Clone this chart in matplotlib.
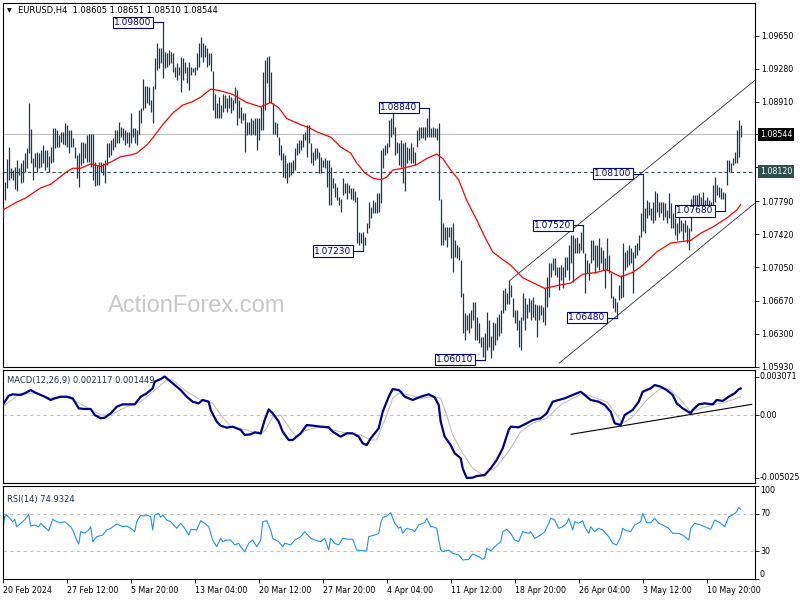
import numpy as np
import matplotlib.pyplot as plt

# -------------------------------------------------------------------
# 0. Data (prices in pips = price * 10000)
# -------------------------------------------------------------------
high_pips = [
    10773, 10801, 10826, 10840, 10816, 10814, 10818, 10825, 10816, 10822,
    10825, 10833, 10839, 10889, 10860, 10827, 10833, 10834, 10833, 10836,
    10842, 10836, 10836, 10830, 10840, 10861, 10861, 10859, 10853, 10857,
    10857, 10867, 10865, 10859, 10859, 10850, 10840, 10831, 10833, 10845,
    10845, 10844, 10853, 10855, 10855, 10855, 10823, 10820, 10823, 10823,
    10822, 10825, 10844, 10844, 10848, 10850, 10859, 10859, 10868, 10862,
    10861, 10859, 10857, 10857, 10878, 10861, 10861, 10859, 10881, 10884,
    10916, 10908, 10908, 10907, 10893, 10908, 10940, 10957, 10951, 10951,
    10980, 10947, 10945, 10949, 10947, 10945, 10930, 10934, 10930, 10941,
    10940, 10935, 10930, 10935, 10930, 10929, 10930, 10945, 10957, 10963,
    10957, 10954, 10951, 10945, 10945, 10925, 10900, 10889, 10896, 10887,
    10900, 10898, 10895, 10898, 10896, 10893, 10907, 10904, 10893, 10885,
    10878, 10878, 10868, 10868, 10872, 10870, 10872, 10872, 10872, 10885,
    10924, 10938, 10941, 10942, 10924, 10889, 10868, 10867, 10851, 10842,
    10833, 10831, 10822, 10823, 10823, 10825, 10839, 10844, 10848, 10848,
    10855, 10857, 10865, 10865, 10844, 10834, 10839, 10839, 10834, 10829,
    10825, 10827, 10825, 10825, 10817, 10805, 10800, 10795, 10784, 10782,
    10805, 10800, 10799, 10797, 10794, 10794, 10791, 10784, 10744, 10743,
    10744, 10739, 10755, 10778, 10772, 10780, 10778, 10788, 10788, 10836,
    10839, 10842, 10844, 10870, 10872, 10878, 10862, 10845, 10844, 10848,
    10844, 10845, 10840, 10839, 10844, 10840, 10834, 10859, 10862, 10862,
    10862, 10862, 10872, 10884, 10861, 10862, 10861, 10861, 10867, 10782,
    10754, 10750, 10750, 10750, 10750, 10755, 10735, 10730, 10727, 10713,
    10676, 10653, 10651, 10653, 10657, 10666, 10666, 10649, 10642, 10626,
    10626, 10631, 10654, 10645, 10628, 10643, 10642, 10649, 10652, 10657,
    10679, 10681, 10676, 10690, 10685, 10670, 10657, 10657, 10645, 10649,
    10676, 10670, 10664, 10670, 10668, 10671, 10664, 10662, 10662, 10662,
    10660, 10682, 10694, 10710, 10710, 10715, 10715, 10705, 10705, 10707,
    10705, 10716, 10716, 10730, 10741, 10741, 10738, 10739, 10732, 10744,
    10752, 10721, 10713, 10710, 10735, 10735, 10730, 10730, 10738, 10727,
    10724, 10715, 10738, 10718, 10698, 10673, 10670, 10666, 10685, 10696,
    10732, 10722, 10724, 10730, 10726, 10722, 10730, 10732, 10741, 10766,
    10810, 10771, 10780, 10778, 10771, 10778, 10791, 10788, 10778, 10778,
    10778, 10777, 10769, 10788, 10777, 10766, 10760, 10755, 10761, 10758,
    10754, 10758, 10752, 10749, 10782, 10786, 10786, 10786, 10788, 10784,
    10789, 10780, 10784, 10780, 10778, 10797, 10806, 10797, 10795, 10794,
    10789, 10788, 10825, 10825, 10822, 10827, 10834, 10859, 10870, 10865,
]
low_pips = [
    10761, 10780, 10794, 10803, 10805, 10803, 10793, 10790, 10808, 10799,
    10801, 10812, 10816, 10833, 10822, 10803, 10817, 10812, 10816, 10817,
    10822, 10814, 10817, 10812, 10822, 10823, 10839, 10840, 10840, 10845,
    10843, 10842, 10840, 10833, 10840, 10840, 10827, 10805, 10795, 10820,
    10822, 10827, 10823, 10823, 10817, 10803, 10796, 10797, 10797, 10812,
    10808, 10799, 10820, 10829, 10831, 10836, 10840, 10844, 10844, 10851,
    10848, 10842, 10844, 10840, 10844, 10851, 10844, 10842, 10855, 10867,
    10881, 10884, 10889, 10887, 10879, 10867, 10905, 10926, 10929, 10934,
    10917, 10929, 10930, 10932, 10934, 10924, 10919, 10915, 10921, 10902,
    10915, 10923, 10912, 10904, 10921, 10924, 10921, 10926, 10930, 10941,
    10935, 10941, 10930, 10932, 10925, 10881, 10872, 10872, 10873, 10872,
    10879, 10884, 10879, 10884, 10878, 10881, 10889, 10865, 10872, 10867,
    10870, 10834, 10853, 10855, 10853, 10855, 10853, 10836, 10848, 10859,
    10859, 10881, 10912, 10889, 10889, 10855, 10855, 10851, 10831, 10825,
    10806, 10805, 10800, 10806, 10808, 10811, 10814, 10831, 10833, 10836,
    10840, 10848, 10829, 10844, 10822, 10820, 10825, 10827, 10811, 10811,
    10817, 10816, 10795, 10775, 10775, 10794, 10784, 10780, 10775, 10767,
    10786, 10788, 10782, 10788, 10782, 10780, 10778, 10732, 10730, 10732,
    10723, 10730, 10743, 10749, 10760, 10766, 10766, 10766, 10767, 10777,
    10816, 10831, 10833, 10840, 10851, 10855, 10831, 10833, 10820, 10817,
    10799, 10791, 10822, 10825, 10822, 10822, 10820, 10840, 10848, 10850,
    10850, 10848, 10851, 10851, 10851, 10851, 10851, 10848, 10780, 10730,
    10730, 10735, 10727, 10739, 10715, 10699, 10716, 10715, 10713, 10671,
    10631, 10623, 10634, 10631, 10637, 10645, 10623, 10623, 10620, 10615,
    10604, 10601, 10612, 10615, 10603, 10612, 10617, 10623, 10628, 10631,
    10653, 10657, 10664, 10664, 10671, 10649, 10642, 10634, 10615, 10612,
    10645, 10634, 10648, 10654, 10645, 10649, 10645, 10626, 10645, 10651,
    10643, 10640, 10660, 10671, 10694, 10702, 10696, 10694, 10679, 10690,
    10682, 10694, 10702, 10690, 10709, 10688, 10721, 10721, 10721, 10724,
    10721, 10676, 10698, 10690, 10709, 10713, 10698, 10705, 10702, 10709,
    10702, 10682, 10702, 10698, 10670, 10659, 10654, 10648, 10668, 10670,
    10671, 10702, 10705, 10707, 10710, 10676, 10715, 10718, 10724, 10739,
    10746, 10743, 10760, 10763, 10758, 10754, 10758, 10767, 10761, 10766,
    10758, 10761, 10754, 10760, 10749, 10749, 10741, 10735, 10743, 10746,
    10735, 10744, 10732, 10724, 10746, 10761, 10767, 10766, 10769, 10767,
    10769, 10767, 10772, 10771, 10767, 10775, 10778, 10786, 10784, 10782,
    10782, 10768, 10797, 10812, 10812, 10820, 10822, 10822, 10829, 10851,
]
last_ohlc = [1.08605, 1.08651, 1.08510, 1.08544]

# red moving average, sampled along the bars
ma_bar = [0, 7, 11, 15, 19, 24, 28, 32, 35, 39, 44, 49, 54, 59, 64, 67, 72, 75, 80, 85,
          90, 95, 99, 104, 109, 115, 122, 129, 134, 138, 142, 149, 153, 157, 164, 169,
          174, 177, 181, 185, 189, 192, 195, 200, 207, 212, 217, 220, 224, 228, 232,
          237, 241, 245, 249, 254, 260, 271, 279, 284, 290, 297, 302, 309, 315, 320,
          327, 334, 344, 349, 355, 362, 367, 369]
ma_pips = [10769, 10778, 10782, 10788, 10794, 10798, 10805, 10812, 10816, 10816,
           10821, 10818, 10823, 10829, 10831, 10833, 10842, 10850, 10865, 10878,
           10887, 10891, 10896, 10905, 10903, 10899, 10890, 10885, 10890, 10884,
           10872, 10865, 10862, 10857, 10851, 10840, 10833, 10822, 10811, 10805,
           10803, 10806, 10814, 10816, 10820, 10827, 10832, 10827, 10814, 10803,
           10780, 10758, 10739, 10722, 10715, 10707, 10693, 10681, 10685, 10687,
           10697, 10699, 10702, 10694, 10699, 10707, 10722, 10732, 10735, 10743,
           10750, 10760, 10769, 10775]

# MACD(12,26,9), values in units of 1e-4
macd_bar = [0, 3, 5, 9, 11, 14, 16, 19, 21, 24, 26, 29, 32, 35, 36, 38, 41, 44, 46, 49,
            51, 54, 57, 60, 62, 66, 69, 72, 75, 76, 79, 81, 82, 85, 89, 92, 95, 98, 100, 103,
            104, 107, 109, 112, 115, 119, 121, 124, 126, 129, 131, 133, 135, 138, 140, 143,
            145, 149, 152, 155, 159, 163, 165, 169, 172, 175, 178, 180, 182, 184, 188, 190,
            193, 195, 198, 199, 201, 205, 209, 213, 216, 218, 219, 221, 224, 226, 229, 230,
            232, 235, 237, 241, 244, 247, 250, 253, 254, 258, 262, 265, 269, 272, 275, 278,
            281, 285, 289, 291, 294, 298, 301, 304, 306, 309, 311, 315, 318, 320, 324, 326,
            329, 332, 335, 337, 340, 344, 345, 348, 351, 355, 357, 360, 363, 366, 368, 369]
macd_e4 = [8.0, 15.4, 16.5, 16.0, 17.3, 19.9, 18.1, 16.0, 14.6, 12.0,
           13.3, 14.6, 14.6, 13.3, 10.6, 5.3, 4.8, 4.8, 0.0, -2.6,
           -2.2, 1.4, 6.6, 8.5, 8.5, 8.5, 14.6, 17.3, 21.3, 26.6,
           28.7, 30.71, 29.3, 25.3, 19.9, 14.6, 10.6, 9.3, 12.0, 10.6,
           4.0, -5.3, -8.5, -10.1, -9.3, -11.9, -15.9, -15.4, -13.8, -14.6,
           -4.0, 4.5, 1.4, -5.3, -13.3, -19.9, -19.9, -14.6, -8.0, -8.5,
           -9.3, -9.8, -13.3, -17.3, -14.6, -14.6, -17.3, -22.6, -24.0, -18.6,
           -10.6, 2.6, 14.6, 20.7, 19.9, 18.6, 14.6, 12.0, 14.6, 16.5,
           14.1, 8.0, -5.3, -17.3, -24.0, -30.5, -34.5, -42.5, -50.25, -50.0,
           -48.7, -47.9, -42.5, -35.9, -26.6, -11.9, -9.3, -9.8, -6.6, -4.0,
           -2.6, 1.4, 10.6, 12.0, 13.3, 16.0, 18.6, 16.0, 12.0, 10.6,
           8.0, 2.6, -6.6, -8.0, 0.0, 4.0, 10.6, 18.6, 21.3, 23.9,
           22.6, 19.9, 16.0, 9.3, 5.3, 1.4, 4.0, 8.5, 9.3, 8.5,
           12.0, 11.2, 14.6, 17.3, 20.5, 21.17]
sig_bar = [0, 9, 15, 24, 32, 40, 49, 54, 62, 69, 75, 82, 85, 92, 99, 105, 109, 114, 122, 129,
           132, 135, 139, 144, 147, 152, 159, 165, 172, 179, 184, 187, 192, 195, 198, 204,
           209, 215, 219, 222, 225, 230, 235, 240, 247, 254, 259, 265, 272, 279, 285, 290,
           297, 302, 307, 310, 315, 322, 329, 334, 339, 344, 349, 355, 362, 369]
sig_e4 = [6.6, 17.3, 17.5, 13.6, 14.6, 8.0, 0.0, 0.0, 6.6, 10.6,
          18.6, 27.9, 27.9, 18.6, 12.0, 9.3, 0.0, -9.3, -11.9, -15.9,
          -10.6, -1.4, 0.0, -11.9, -17.3, -11.9, -9.3, -11.9, -14.6, -15.9,
          -19.9, -19.9, 0.0, 13.3, 17.3, 16.0, 13.3, 14.6, 13.3, 0.0,
          -15.9, -30.5, -42.5, -47.9, -41.2, -26.6, -13.3, -6.6, -2.6, 8.0,
          13.3, 17.3, 13.3, 10.6, 0.0, -6.6, -1.4, 12.0, 21.3, 19.9,
          12.0, 2.6, 5.3, 8.0, 10.6, 14.49]
macd_min, macd_max = -0.005025, 0.003071

# RSI(14)
rsi_bar = [0, 1, 2, 4, 5, 6, 7, 9, 10, 12, 13, 14, 16, 18, 19, 21, 23, 25, 27, 29,
           31, 34, 35, 37, 38, 39, 41, 43, 44, 45, 47, 50, 52, 54, 57, 60, 62, 64, 66, 67,
           69, 70, 72, 74, 75, 76, 78, 79, 80, 82, 84, 87, 89, 91, 93, 94, 97, 99, 101, 103,
           105, 107, 109, 110, 112, 114, 116, 118, 119, 121, 123, 125, 127, 129, 130, 132,
           134, 135, 138, 140, 141, 144, 146, 149, 151, 154, 156, 159, 161, 163, 164, 166,
           168, 170, 173, 175, 177, 180, 182, 183, 186, 188, 189, 190, 192, 194, 196, 198,
           199, 200, 202, 205, 206, 208, 210, 211, 212, 214, 215, 217, 219, 220, 223, 225,
           228, 230, 233, 235, 238, 240, 241, 242, 244, 247, 249, 250, 252, 254, 256, 258,
           260, 263, 264, 266, 269, 271, 273, 274, 276, 278, 280, 282, 283, 285, 286, 288,
           290, 291, 293, 294, 296, 298, 300, 303, 305, 307, 309, 310, 311, 314, 316, 319,
           320, 322, 324, 326, 328, 330, 333, 335, 338, 340, 343, 344, 346, 349, 351, 354,
           356, 359, 361, 363, 365, 367, 368, 369]
rsi_vals = [52.7, 67.0, 68.8, 64.2, 61.6, 64.2, 56.2, 59.9, 61.6, 66.3,
            69.6, 57.0, 58.1, 56.2, 59.9, 55.6, 51.9, 64.2, 61.6, 60.5,
            61.6, 56.2, 52.7, 41.9, 37.6, 50.9, 49.1, 52.7, 56.2, 40.1,
            45.5, 47.3, 52.7, 54.5, 59.1, 56.2, 57.0, 54.5, 50.9, 61.6,
            68.8, 67.7, 68.8, 67.0, 52.7, 68.8, 70.6, 66.3, 68.8, 63.4,
            61.6, 54.5, 59.9, 54.5, 47.3, 53.4, 52.7, 62.7, 59.9, 56.2,
            41.9, 34.7, 43.8, 40.1, 41.9, 41.9, 36.6, 38.4, 34.7, 29.4,
            38.4, 41.9, 34.7, 41.9, 61.6, 62.7, 52.7, 43.8, 40.1, 34.7,
            38.4, 36.6, 41.9, 45.5, 50.9, 43.8, 41.9, 40.1, 43.8, 31.2,
            43.8, 38.4, 36.6, 43.8, 42.7, 42.7, 31.2, 30.4, 30.4, 45.5,
            47.3, 49.1, 59.9, 66.3, 67.7, 71.3, 59.9, 54.5, 56.2, 49.1,
            54.5, 52.7, 50.9, 58.1, 59.9, 60.5, 65.3, 56.2, 56.2, 54.5,
            31.2, 29.4, 31.2, 27.6, 25.8, 20.4, 21.2, 26.9, 24.0, 21.2,
            22.3, 33.0, 30.4, 36.6, 40.1, 50.9, 53.4, 49.1, 41.9, 40.1,
            50.9, 49.1, 50.9, 43.8, 47.3, 50.9, 59.9, 65.3, 63.4, 54.5,
            56.2, 59.9, 65.3, 52.7, 61.6, 59.9, 62.7, 56.2, 49.1, 56.2,
            50.9, 54.5, 52.7, 45.5, 38.4, 36.6, 45.5, 54.5, 52.7, 50.9,
            58.1, 61.6, 70.6, 60.5, 60.5, 65.3, 59.9, 58.1, 54.5, 49.1,
            49.1, 47.3, 41.9, 54.5, 59.9, 58.1, 56.2, 53.4, 63.4, 59.9,
            56.2, 67.0, 68.8, 72.4, 77.1, 74.93]
rsi_last = 74.9324

# swing high / low tags
swing_bar = [80, 213, 180, 241, 290, 307, 320, 361]
swing_price = [1.09800, 1.08840, 1.07230, 1.06010, 1.07520, 1.06480, 1.08100, 1.07680]

# rising channel and MACD support line (bar, value)
chan_upper_bar, chan_upper = [253.6, 375.9], [1.0690, 1.09145]
chan_lower_bar, chan_lower = [278.2, 375.9], [1.0597, 1.07764]
macd_line_bar, macd_line = [284.2, 374.5], [-0.00154, 0.00085]

level_dashed = 1.08120
price_ticks = [1.0965, 1.0928, 1.0891, 1.0854, 1.0817, 1.0779, 1.0742, 1.0705,
               1.0667, 1.0630, 1.0593]
hidden_ticks = [1.0854, 1.0817]   # covered by the price boxes
date_labels = ["20 Feb 2024", "27 Feb 12:00", "5 Mar 20:00", "13 Mar 04:00",
               "20 Mar 12:00", "27 Mar 20:00", "4 Apr 04:00", "11 Apr 12:00",
               "18 Apr 20:00", "26 Apr 04:00", "3 May 12:00", "10 May 20:00"]
bars_per_label = 32

# -------------------------------------------------------------------
# 1. Prepare
# -------------------------------------------------------------------
highs = np.array(high_pips) / 10000
lows = np.array(low_pips) / 10000
bars = np.arange(len(highs))
ma = np.array(ma_pips) / 10000
macd_main = np.array(macd_e4) * 1e-4
macd_sig = np.array(sig_e4) * 1e-4

BAR_C = "#123a5a"
NAVY = "#000080"
SILVER = "#c0c0c0"
FS_AX = 5.7

# -------------------------------------------------------------------
# 2. Figure / panels
# -------------------------------------------------------------------
fig = plt.figure(figsize=(8, 6), dpi=100)
L, W = 2.5 / 800, 752 / 800
ax = fig.add_axes([L, 1 - 367 / 600, W, 364 / 600])
ax_macd = fig.add_axes([L, 1 - 483 / 600, W, 113 / 600], sharex=ax)
ax_rsi = fig.add_axes([L, 1 - 579 / 600, W, 93 / 600], sharex=ax)

for a in (ax, ax_macd, ax_rsi):
    for s in a.spines.values():
        s.set_linewidth(0.8)
        s.set_color("black")
    a.tick_params(axis="x", bottom=False, labelbottom=False)
    a.yaxis.tick_right()
    a.tick_params(axis="y", length=3, width=0.6, labelsize=FS_AX, pad=2)

ax.set_xlim(-0.1, 375.9)


def right_label(axis, value, text, va="center", **kw):
    axis.text(1.0073, value, text, transform=axis.get_yaxis_transform(),
              ha="left", va=va, fontsize=FS_AX, **kw)


# -------------------------------------------------------------------
# 3. Price panel
# -------------------------------------------------------------------
ax.set_ylim(1.059267, 1.100175)
ax.axhline(last_ohlc[3], color=SILVER, lw=0.8, zorder=1)
ax.axhline(level_dashed, color="#2f4f4f", lw=0.8, dashes=(3, 2.5), zorder=1)

ax.vlines(bars, lows, highs, colors=BAR_C, lw=0.9, zorder=3)
ax.plot(ma_bar, ma, color="red", lw=0.9, zorder=4)

ax.plot(chan_upper_bar, chan_upper, color="#303030", lw=0.6, zorder=2)
ax.plot(chan_lower_bar, chan_lower, color="#303030", lw=0.6, zorder=2)

for b, p in zip(swing_bar, swing_price):
    ax.plot([b - 5, b], [p, p], color=NAVY, lw=0.8, zorder=5)
    ax.text(b - 5.6, p, f"{p:.5f}", ha="right", va="center", fontsize=6.5,
            color=NAVY, zorder=6,
            bbox=dict(boxstyle="square,pad=0.12", fc="white", ec=NAVY, lw=0.8))

ax.set_yticks(price_ticks)
ax.set_yticklabels(["" if t in hidden_ticks else f"{t:.5f}" for t in price_ticks])
right_label(ax, last_ohlc[3], f"{last_ohlc[3]:.5f}", color="white",
            bbox=dict(boxstyle="square,pad=0.25", fc="black", ec="none"))
right_label(ax, level_dashed, f"{level_dashed:.5f}", color="white",
            bbox=dict(boxstyle="square,pad=0.25", fc="#2f4f4f", ec="none"))

ax.text(0.0093, 0.979, "\u25bc", transform=ax.transAxes, fontsize=4.5,
        ha="center", va="center", color="black")
ax.text(0.0206, 0.979, "EURUSD,H4  " + " ".join(f"{v:.5f}" for v in last_ohlc),
        transform=ax.transAxes, fontsize=6, ha="left", va="center", color="black")

fig.text(108 / 800, 1 - 312 / 600, "ActionForex.com", fontsize=17,
         family="Liberation Sans", color="#c8c8c8", ha="left", va="baseline")

# -------------------------------------------------------------------
# 4. MACD panel
# -------------------------------------------------------------------
ax_macd.set_ylim(macd_min - 0.0004, macd_max + 0.00052)
ax_macd.axhline(0, color=SILVER, lw=0.8, dashes=(3, 3))
ax_macd.plot(sig_bar, macd_sig, color=SILVER, lw=0.8)
ax_macd.plot(macd_bar, macd_main, color="#00008b", lw=1.6)
ax_macd.plot(macd_line_bar, macd_line, color="black", lw=0.8)

ax_macd.set_yticks([macd_min, 0, macd_max])
ax_macd.set_yticklabels([])
right_label(ax_macd, macd_max, f"{macd_max:.6f}")
right_label(ax_macd, 0, "0.00")
right_label(ax_macd, macd_min, f"{macd_min:.6f}")
ax_macd.text(0.0065, 0.91,
             f"MACD(12,26,9) {macd_e4[-1] * 1e-4:.6f} {sig_e4[-1] * 1e-4:.6f}",
             transform=ax_macd.transAxes, fontsize=6, ha="left", va="center",
             color="#1f2f4f")

# -------------------------------------------------------------------
# 5. RSI panel
# -------------------------------------------------------------------
ax_rsi.set_ylim(0, 100)
for lvl in (30, 70):
    ax_rsi.axhline(lvl, color=SILVER, lw=0.8, dashes=(3, 3))
ax_rsi.plot(rsi_bar, rsi_vals, color="#1e90ff", lw=0.8)

ax_rsi.set_yticks([0, 30, 70, 100])
ax_rsi.set_yticklabels([])
right_label(ax_rsi, 100, "100", va="top")
right_label(ax_rsi, 70, "70")
right_label(ax_rsi, 30, "30")
right_label(ax_rsi, 0, "0", va="bottom")
ax_rsi.text(0.0065, 0.86, f"RSI(14) {rsi_last:.4f}", transform=ax_rsi.transAxes,
            fontsize=6, ha="left", va="center", color="#1f2f4f")

ax_rsi.set_xticks(np.arange(len(date_labels)) * bars_per_label)
ax_rsi.set_xticklabels(date_labels, ha="left")
ax_rsi.tick_params(axis="x", bottom=True, labelbottom=True, length=3, width=0.6,
                   labelsize=FS_AX, pad=2)

fig.savefig("out.png", dpi=100, facecolor="white")
